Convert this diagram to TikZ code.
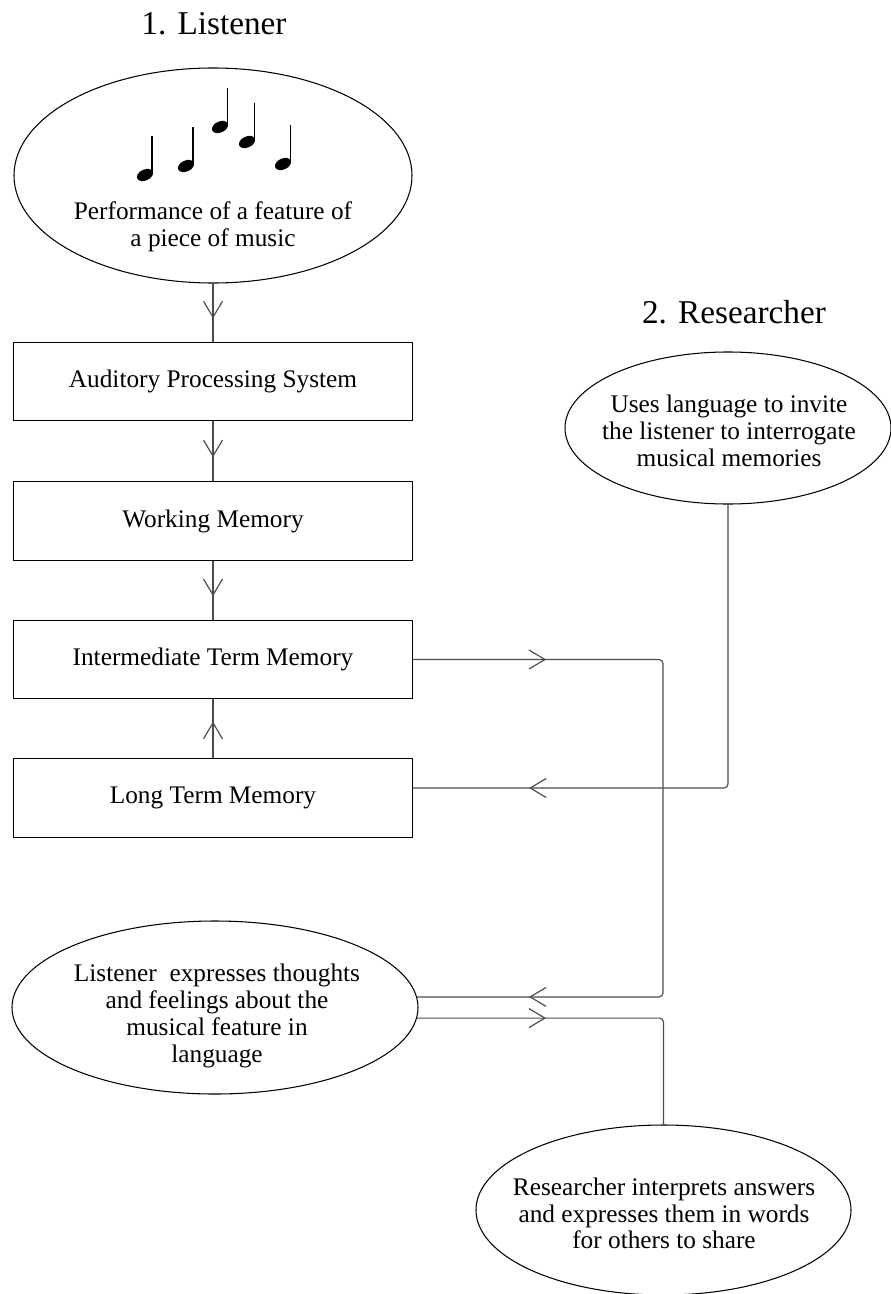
\documentclass[tikz,border=0pt]{standalone}
\usepackage{fontspec}
\setmainfont{Liberation Serif}
\usetikzlibrary{shapes.geometric}
\usetikzlibrary{decorations.markings}
\usetikzlibrary{arrows.meta}

\begin{document}
\begin{tikzpicture}[x=0.015cm,y=-0.015cm,
  >={Straight Barb[length=6.8pt,width=8.1pt]},
  every node/.style={font=\fontsize{10.8}{11.4}\selectfont},
  heading/.style={font=\fontsize{14.2}{17}\selectfont,anchor=base},
  memory/.style={draw,rectangle,line width=0.5pt,minimum width=5.985cm,minimum height=1.18cm,inner sep=0pt},
  bubble/.style={draw,ellipse,line width=0.45pt,inner sep=0pt},
  link/.style={draw=black!70,line width=0.5pt,rounded corners=0.06cm},
  flowmark/.style={postaction={decorate},decoration={markings,mark=at position #1 with {\arrow{>}}}},
  flowmarks/.style 2 args={postaction={decorate},decoration={markings,mark=at position #1 with {\arrow{>}},mark=at position #2 with {\arrow{>}}}}]
  \useasboundingbox (0,0) rectangle (891,1294);

  % headings
  \node[heading] (listener) at (214,35) {1. Listener};
  \node[heading] (researcher) at (734,323) {2. Researcher};

  % listener column
  \node[bubble,minimum width=5.97cm,minimum height=3.225cm] (perf) at (213,175.5) {};
  \node[align=center] (perftext) at (213,226.5) {Performance of a feature of\\a piece of music};
  \foreach \nx/\ny in {145/175,186/166,220/127,247/142,283/164}{
    \fill[rotate around={25:(\nx,\ny)}] (\nx,\ny) ellipse (8.5 and 5.5);
    \draw[line width=0.6pt] (\nx+7.2,\ny-2) -- (\nx+7.2,\ny-38.5);
  }
  \node[memory] (aps) at (213,381.5) {Auditory Processing System};
  \node[memory] (wm) at (213,521) {Working Memory};
  \node[memory] (itm) at (213,659.5) {Intermediate Term Memory};
  \node[memory] (ltm) at (213,798) {Long Term Memory};
  \node[bubble,minimum width=6.09cm,minimum height=2.595cm] (express) at (215,1007.5) {};
  \node[align=center] (expresstext) at (217,1016) {Listener\ \ expresses thoughts\\and feelings about the\\musical feature in\\language};

  % researcher column
  \node[bubble,minimum width=4.89cm,minimum height=2.28cm] (invite) at (728,428) {};
  \node[align=center] (invitetext) at (729,431) {Uses language to invite\\the listener to interrogate\\musical memories};
  \node[bubble,minimum width=5.625cm,minimum height=2.55cm] (interpret) at (663.5,1210) {};
  \node[align=center] (interprettext) at (664,1213.5) {Researcher interprets answers\\and expresses them in words\\for others to share};

  \coordinate (rail) at (663,660);
  \coordinate (drop) at (728,788);

  % connectors
  \draw[link,flowmark=0.6] (perf.south) -- (aps.north);
  \draw[link,flowmark=0.6] (aps.south) -- (wm.north);
  \draw[link,flowmark=0.6] (wm.south) -- (itm.north);
  \draw[link,flowmark=0.62] (ltm.north) -- (itm.south);
  \draw[link,flowmarks={1.995cm}{-1.68cm}] (itm.east) -- (itm.east -| rail) -- (rail |- express.3.6) -- (express.3.6);
  \draw[link,flowmark=-1.74cm] (invite.south) -- (drop) -- (drop -| ltm.east);
  \draw[link,flowmark=1.935cm] (express.-3.3) -| (interpret.north);
\end{tikzpicture}
\end{document}
